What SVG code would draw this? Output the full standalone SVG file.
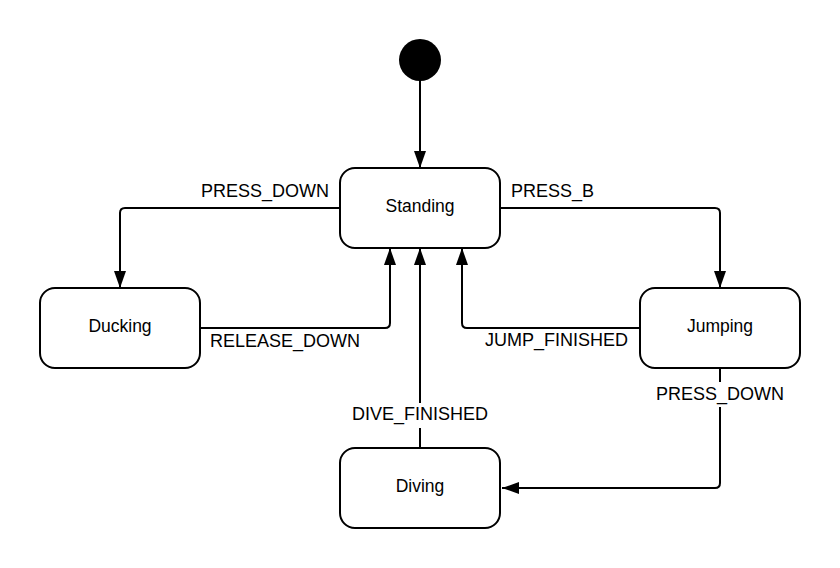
<svg xmlns="http://www.w3.org/2000/svg" width="840" height="568" viewBox="0 0 840 568">
  <style>
    .node { fill: #ffffff; stroke: #000000; stroke-width: 2; }
    .lbl { font-family: "Liberation Sans", Arial, sans-serif; font-size: 17.5px; fill: #000000; text-anchor: middle; }
    .elbl { font-family: "Liberation Sans", Arial, sans-serif; font-size: 18px; fill: #000000; }
    .edge { fill: none; stroke: #000000; stroke-width: 2; }
  </style>
  <defs>
    <marker id="arrow" viewBox="0 0 17 12" refX="17" refY="6" markerWidth="17" markerHeight="12" markerUnits="userSpaceOnUse" orient="auto">
      <path d="M0,0 L17,6 L0,12 z" fill="#000000"/>
    </marker>
  </defs>
  <rect width="840" height="568" fill="#ffffff"/>

  <g id="connectors">
    <path class="edge" d="M420,81 V168" marker-end="url(#arrow)"/>
    <path class="edge" d="M340,208 H125 Q120,208 120,213 V288" marker-end="url(#arrow)"/>
    <path class="edge" d="M500,208 H715 Q720,208 720,213 V288" marker-end="url(#arrow)"/>
    <path class="edge" d="M200,328 H385 Q390,328 390,323 V248" marker-end="url(#arrow)"/>
    <path class="edge" d="M640,328 H467 Q462,328 462,323 V248" marker-end="url(#arrow)"/>
    <path class="edge" d="M420,448 V248" marker-end="url(#arrow)"/>
    <path class="edge" d="M720,368 V483 Q720,488 715,488 H502" marker-end="url(#arrow)"/>
    <rect x="350" y="403" width="140" height="25" fill="#ffffff"/>
    <rect x="655" y="382" width="130" height="25" fill="#ffffff"/>
    <text class="elbl" x="329" y="197" text-anchor="end">PRESS_DOWN</text>
    <text class="elbl" x="511" y="197">PRESS_B</text>
    <text class="elbl" x="210" y="347">RELEASE_DOWN</text>
    <text class="elbl" x="485" y="346">JUMP_FINISHED</text>
    <text class="elbl" x="420" y="420" text-anchor="middle">DIVE_FINISHED</text>
    <text class="elbl" x="720" y="400" text-anchor="middle">PRESS_DOWN</text>
  </g>

  <g id="initial">
    <circle cx="420" cy="60" r="21" fill="#000000"/>
  </g>
  <g id="standing">
    <rect class="node" x="340" y="168" width="160" height="80" rx="15" ry="15"/>
    <text class="lbl" x="420" y="212">Standing</text>
  </g>
  <g id="ducking">
    <rect class="node" x="40" y="288" width="160" height="80" rx="15" ry="15"/>
    <text class="lbl" x="120" y="332">Ducking</text>
  </g>
  <g id="jumping">
    <rect class="node" x="640" y="288" width="160" height="80" rx="15" ry="15"/>
    <text class="lbl" x="720" y="332">Jumping</text>
  </g>
  <g id="diving">
    <rect class="node" x="340" y="448" width="160" height="80" rx="15" ry="15"/>
    <text class="lbl" x="420" y="492">Diving</text>
  </g>
</svg>
